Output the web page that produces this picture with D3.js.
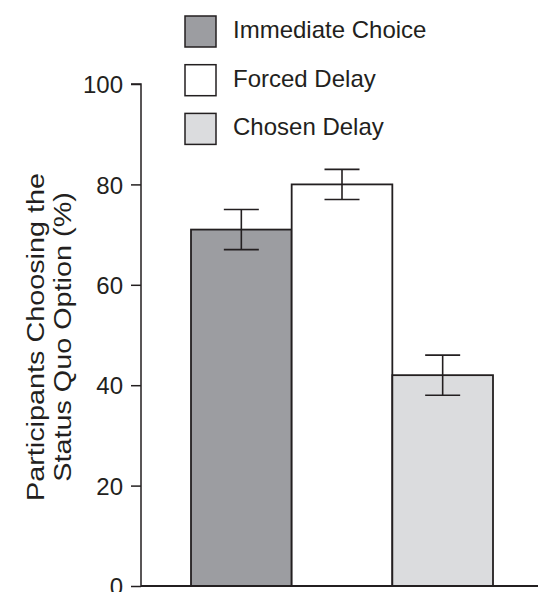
<!DOCTYPE html>
<html>
<head>
<meta charset="utf-8">
<script src="https://cdn.jsdelivr.net/npm/d3@7"></script>
<style>
  html, body { margin: 0; padding: 0; background: #fff; }
  svg { display: block; }
  text { font-family: "Liberation Sans", Arial, Helvetica, sans-serif; fill: #231f20; }
</style>
</head>
<body>
<svg id="chart" width="538" height="592"></svg>
<script>
const categories = ["Immediate Choice", "Forced Delay", "Chosen Delay"];
const values = [71, 80, 42];
const errLow = [67, 77, 38];
const errHigh = [75, 83, 46];
const colors = ["#9c9da1", "#ffffff", "#dbdcde"];
const yTicks = [0, 20, 40, 60, 80, 100];
const yTitle = ["Participants Choosing the", "Status Quo Option (%)"];

const svg = d3.select("#chart");
const ink = "#231f20";

const y = d3.scaleLinear().domain([0, 100]).range([586, 84]);
const x = d3.scaleBand().domain(categories).range([191, 493]).padding(0);

// Y axis
const yAxis = d3.axisLeft(y).tickValues(yTicks).tickSize(10).tickPadding(8).tickFormat(d3.format("d"));
const gy = svg.append("g").attr("transform", "translate(141,0)").call(yAxis);
gy.select(".domain").attr("stroke", ink).attr("stroke-width", 1.5).attr("d", `M-10,${y(100)}H0V${y(0)}`);
gy.selectAll(".tick line").attr("stroke", ink).attr("stroke-width", 1.5);
gy.selectAll(".tick text").attr("font-size", 24).attr("font-family", "Liberation Sans, Arial, sans-serif").attr("fill", ink).attr("dy", "0.36em");

// Bars
svg.append("g").selectAll("rect").data(categories).join("rect")
  .attr("x", d => x(d))
  .attr("y", (d, i) => y(values[i]))
  .attr("width", x.bandwidth())
  .attr("height", (d, i) => y(0) - y(values[i]))
  .attr("fill", (d, i) => colors[i])
  .attr("stroke", ink)
  .attr("stroke-width", 1.8);

// Baseline
svg.append("line").attr("x1", 141).attr("x2", 538).attr("y1", y(0)).attr("y2", y(0))
  .attr("stroke", ink).attr("stroke-width", 2);

// Error bars
const eb = svg.append("g").attr("stroke", ink).attr("stroke-width", 1.6).attr("fill", "none");
categories.forEach((c, i) => {
  const cx = x(c) + x.bandwidth() / 2;
  eb.append("line").attr("x1", cx).attr("x2", cx).attr("y1", y(errLow[i])).attr("y2", y(errHigh[i]));
  eb.append("line").attr("x1", cx - 17.5).attr("x2", cx + 17.5).attr("y1", y(errLow[i])).attr("y2", y(errLow[i]));
  eb.append("line").attr("x1", cx - 17.5).attr("x2", cx + 17.5).attr("y1", y(errHigh[i])).attr("y2", y(errHigh[i]));
});

// Legend
const lg = svg.append("g");
categories.forEach((c, i) => {
  const top = 16 + i * 48.7;
  lg.append("rect").attr("x", 185).attr("y", top).attr("width", 31).attr("height", 31)
    .attr("fill", colors[i]).attr("stroke", ink).attr("stroke-width", 1.5);
  lg.append("text").attr("x", 233).attr("y", top + 22).attr("font-size", 24).text(c);
});

// Y title
const t = svg.append("text").attr("transform", `translate(0,337) rotate(-90) scale(1.2,1)`)
  .attr("text-anchor", "middle").attr("font-size", 24);
t.append("tspan").attr("x", 0).attr("y", 44).text(yTitle[0]);
t.append("tspan").attr("x", 0).attr("y", 71).text(yTitle[1]);
</script>
</body>
</html>
